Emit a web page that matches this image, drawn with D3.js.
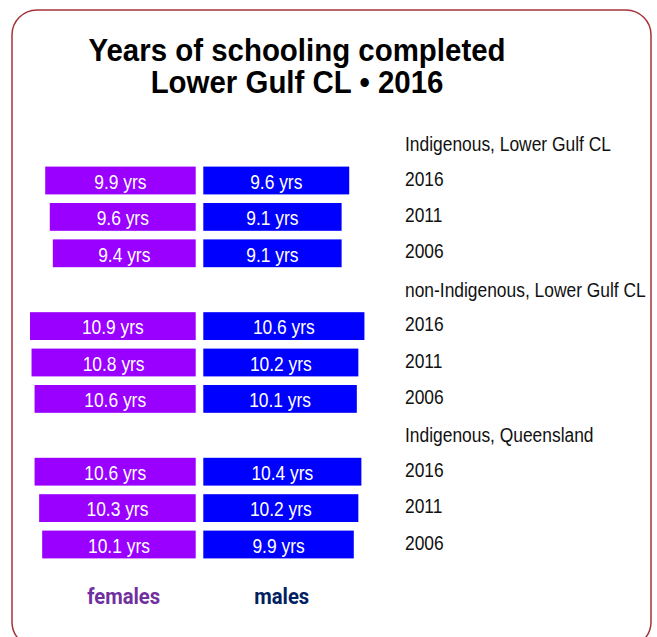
<!DOCTYPE html>
<html>
<head>
<meta charset="utf-8">
<script src="https://cdn.jsdelivr.net/npm/d3@7"></script>
<style>
  html, body { margin: 0; padding: 0; background: #ffffff; }
  svg { display: block; }
</style>
</head>
<body>
<svg id="chart" width="657" height="637"></svg>
<script>
// ---- data ----
const titleLines = ["Years of schooling completed", "Lower Gulf CL \u2022 2016"];
const groups = ["Indigenous, Lower Gulf CL", "non-Indigenous, Lower Gulf CL", "Indigenous, Queensland"];
const years = ["2016", "2011", "2006"];
const femaleValues = [
  [9.9, 9.6, 9.4],
  [10.9, 10.8, 10.6],
  [10.6, 10.3, 10.1]
];
const maleValues = [
  [9.6, 9.1, 9.1],
  [10.6, 10.2, 10.1],
  [10.4, 10.2, 9.9]
];
const seriesLabels = ["females", "males"];

// ---- build slots (header + 3 rows per group) ----
const slots = [];
groups.forEach((g, gi) => {
  slots.push({ id: "h" + gi, type: "header", label: g });
  years.forEach((y, yi) => {
    slots.push({ id: "r" + gi + "_" + yi, type: "row", label: y,
                 female: femaleValues[gi][yi], male: maleValues[gi][yi] });
  });
});

const svg = d3.select("#chart");

// frame
svg.append("rect")
  .attr("x", 12).attr("y", 10)
  .attr("width", 639).attr("height", 637)
  .attr("rx", 25).attr("ry", 25)
  .attr("fill", "#ffffff")
  .attr("stroke", "#a3333a")
  .attr("stroke-width", 1.5);

// title
svg.selectAll("text.title").data(titleLines).enter().append("text")
  .attr("class", "title")
  .attr("transform", (d, i) => `translate(297,${61 + i * 32}) scale(0.95,1)`)
  .attr("text-anchor", "middle")
  .attr("font-family", "'Liberation Sans', Arial, sans-serif")
  .attr("font-weight", "bold")
  .attr("font-size", 31)
  .attr("fill", "#000")
  .text(d => d);

// scales
const y = d3.scaleBand()
  .domain(slots.map(s => s.id))
  .range([125.9, 125.9 + 36.4 * 12])
  .paddingInner(0.236)
  .paddingOuter(0.118);

const x = d3.scaleLinear().domain([0, 11]).range([0, 167.2]);

const femaleRight = 195.7;
const maleLeft = 203.3;
const rows = slots.filter(s => s.type === "row");
const sx = 0.87;

// female bars
svg.selectAll("rect.female").data(rows).enter().append("rect")
  .attr("class", "female")
  .attr("x", d => femaleRight - x(d.female))
  .attr("y", d => y(d.id))
  .attr("width", d => x(d.female))
  .attr("height", y.bandwidth())
  .attr("fill", "#9900ff");

// male bars
svg.selectAll("rect.male").data(rows).enter().append("rect")
  .attr("class", "male")
  .attr("x", maleLeft)
  .attr("y", d => y(d.id))
  .attr("width", d => x(d.male))
  .attr("height", y.bandwidth())
  .attr("fill", "#0000ff");

// bar labels
const barFont = "'Liberation Sans', Arial, sans-serif";
svg.selectAll("text.flab").data(rows).enter().append("text")
  .attr("class", "flab")
  .attr("transform", d => `translate(${femaleRight - x(d.female) / 2},${y(d.id) + y.bandwidth() / 2 + 8.3}) scale(${sx},1)`)
  .attr("text-anchor", "middle")
  .attr("font-family", barFont)
  .attr("font-size", 20)
  .attr("fill", "#ffffff")
  .text(d => d3.format(".1f")(d.female) + " yrs");

svg.selectAll("text.mlab").data(rows).enter().append("text")
  .attr("class", "mlab")
  .attr("transform", d => `translate(${maleLeft + x(d.male) / 2},${y(d.id) + y.bandwidth() / 2 + 8.3}) scale(${sx},1)`)
  .attr("text-anchor", "middle")
  .attr("font-family", barFont)
  .attr("font-size", 20)
  .attr("fill", "#ffffff")
  .text(d => d3.format(".1f")(d.male) + " yrs");

// right-side labels (group headers and years)
svg.selectAll("text.cat").data(slots).enter().append("text")
  .attr("class", "cat")
  .attr("transform", d => `translate(405,${y(d.id) + y.bandwidth() / 2 + (d.type === "header" ? 6.8 : 5.0)}) scale(${sx},1)`)
  .attr("font-family", barFont)
  .attr("font-size", 20)
  .attr("fill", "#111")
  .text(d => d.label);

// series legend labels
const legendX = [123.7, 281.7];
const legendColors = ["#7030a0", "#002060"];
svg.selectAll("text.leg").data(seriesLabels).enter().append("text")
  .attr("class", "leg")
  .attr("transform", (d, i) => `translate(${legendX[i]},603.5) scale(0.92,1)`)
  .attr("text-anchor", "middle")
  .attr("font-family", "Roboto, 'Liberation Sans', sans-serif")
  .attr("font-weight", "bold")
  .attr("font-size", 22)
  .attr("fill", (d, i) => legendColors[i])
  .text(d => d);
</script>
</body>
</html>
